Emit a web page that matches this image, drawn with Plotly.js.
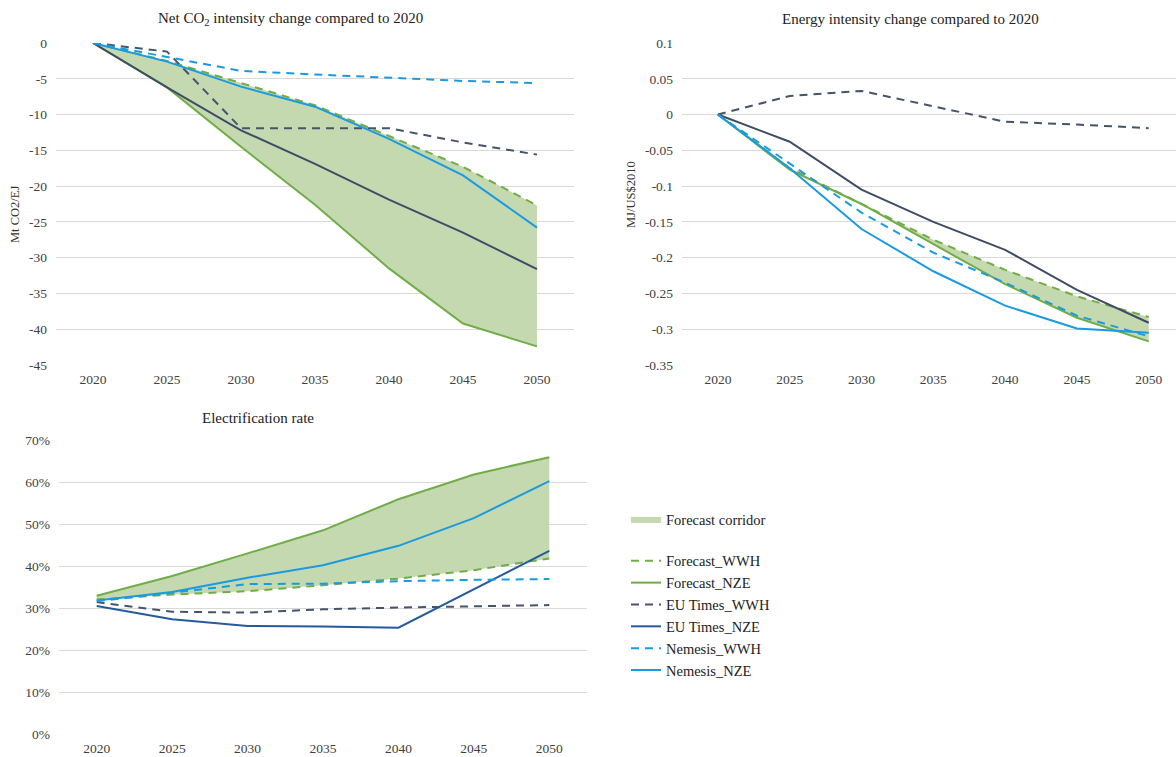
<!DOCTYPE html>
<html>
<head>
<meta charset="utf-8">
<script src="https://cdn.plot.ly/plotly-3.0.1.min.js"></script>
<style>
  html, body { margin: 0; padding: 0; background: #fff; }
  #chart { width: 1176px; height: 757px; }
</style>
</head>
<body>
<div id="chart"></div>
<script>
// ---------- Data ----------
const years = ['2020', '2025', '2030', '2035', '2040', '2045', '2050'];

// Net CO2 intensity change compared to 2020 (Mt CO2/EJ)
const co2ForecastWWH = [0, -2.5, -5.6, -8.7, -13.0, -17.3, -22.7];
const co2ForecastNZE = [0, -6.2, -14.5, -22.6, -31.5, -39.2, -42.4];
const co2EUTimesWWH  = [0, -1.2, -11.9, -11.9, -11.9, -13.9, -15.6];
const co2EUTimesNZE  = [0, -6.2, -12.2, -16.9, -21.9, -26.5, -31.6];
const co2NemesisWWH  = [0, -1.9, -3.9, -4.4, -4.9, -5.3, -5.6];
const co2NemesisNZE  = [0, -2.6, -6.1, -8.9, -13.4, -18.5, -25.8];

// Energy intensity change compared to 2020 (MJ/US$2010)
const enForecastWWH = [0, -0.075, -0.125, -0.175, -0.217, -0.254, -0.283];
const enForecastNZE = [0, -0.077, -0.125, -0.181, -0.237, -0.284, -0.317];
const enEUTimesWWH  = [0, 0.026, 0.033, 0.011, -0.010, -0.014, -0.019];
const enEUTimesNZE  = [0, -0.038, -0.105, -0.150, -0.189, -0.245, -0.291];
const enNemesisWWH  = [0, -0.068, -0.137, -0.193, -0.235, -0.281, -0.310];
const enNemesisNZE  = [0, -0.075, -0.160, -0.219, -0.267, -0.299, -0.305];

// Electrification rate
const elForecastWWH = [0.320, 0.332, 0.340, 0.354, 0.370, 0.390, 0.418];
const elForecastNZE = [0.329, 0.376, 0.430, 0.485, 0.559, 0.618, 0.659];
const elEUTimesWWH  = [0.314, 0.291, 0.289, 0.297, 0.301, 0.304, 0.307];
const elEUTimesNZE  = [0.305, 0.273, 0.257, 0.256, 0.253, 0.344, 0.436];
const elNemesisWWH  = [0.316, 0.336, 0.357, 0.358, 0.364, 0.367, 0.369];
const elNemesisNZE  = [0.318, 0.338, 0.372, 0.402, 0.448, 0.514, 0.602];

// Tick labels
const co2TickVals = [0, -5, -10, -15, -20, -25, -30, -35, -40, -45];
const co2TickText = ['0', '-5', '-10', '-15', '-20', '-25', '-30', '-35', '-40', '-45'];
const enTickVals = [0.1, 0.05, 0, -0.05, -0.1, -0.15, -0.2, -0.25, -0.3, -0.35];
const enTickText = ['0.1', '0.05', '0', '-0.05', '-0.1', '-0.15', '-0.2', '-0.25', '-0.3', '-0.35'];
const elTickVals = [0, 0.1, 0.2, 0.3, 0.4, 0.5, 0.6, 0.7];
const elTickText = ['0%', '10%', '20%', '30%', '40%', '50%', '60%', '70%'];

const seriesNames = ['Forecast_WWH', 'Forecast_NZE', 'EU Times_WWH', 'EU Times_NZE', 'Nemesis_WWH', 'Nemesis_NZE'];
const corridorName = 'Forecast corridor';

// ---------- Styles ----------
const FONT = 'Liberation Serif, Times New Roman, serif';
const GREEN = '#70AD47';
const FILL = '#C5D9B1';
const DARK = '#44546A';
const DARKBLUE_TOP = '#3E4C66';
const DARKBLUE = '#245A9E';
const LIGHTBLUE = '#1A9AE0';
const DASH = '8px,6px';

function panel(xa, ya, data, darkNZE, legend) {
  const [wwhF, nzeF, wwhE, nzeE, wwhN, nzeN] = data;
  const px = years.concat(years.slice().reverse());
  const py = wwhF.concat(nzeF.slice().reverse());
  const common = { x: years, xaxis: xa, yaxis: ya, mode: 'lines', hoverinfo: 'skip' };
  return [
    { x: px, y: py, xaxis: xa, yaxis: ya, type: 'scatter', mode: 'lines', fill: 'toself',
      fillcolor: FILL, line: { width: 0, color: FILL }, name: corridorName,
      legendgroup: 'corridor', showlegend: legend, hoverinfo: 'skip' },
    Object.assign({}, common, { y: wwhF, name: seriesNames[0], line: { color: GREEN, width: 2, dash: DASH }, legendgroup: 'lines', showlegend: legend }),
    Object.assign({}, common, { y: nzeF, name: seriesNames[1], line: { color: GREEN, width: 2 }, legendgroup: 'lines', showlegend: legend }),
    Object.assign({}, common, { y: wwhE, name: seriesNames[2], line: { color: DARK, width: 2, dash: DASH }, legendgroup: 'lines', showlegend: legend }),
    Object.assign({}, common, { y: nzeE, name: seriesNames[3], line: { color: darkNZE, width: 2 }, legendgroup: 'lines', showlegend: legend }),
    Object.assign({}, common, { y: wwhN, name: seriesNames[4], line: { color: LIGHTBLUE, width: 2, dash: DASH }, legendgroup: 'lines', showlegend: legend }),
    Object.assign({}, common, { y: nzeN, name: seriesNames[5], line: { color: LIGHTBLUE, width: 2 }, legendgroup: 'lines', showlegend: legend })
  ];
}

const traces = []
  .concat(panel('x', 'y', [co2ForecastWWH, co2ForecastNZE, co2EUTimesWWH, co2EUTimesNZE, co2NemesisWWH, co2NemesisNZE], DARKBLUE_TOP, false))
  .concat(panel('x2', 'y2', [enForecastWWH, enForecastNZE, enEUTimesWWH, enEUTimesNZE, enNemesisWWH, enNemesisNZE], DARKBLUE_TOP, false))
  .concat(panel('x3', 'y3', [elForecastWWH, elForecastNZE, elEUTimesWWH, elEUTimesNZE, elNemesisWWH, elNemesisNZE], DARKBLUE, true));

const W = 1176, H = 757;
const px2x = v => v / W;
const px2y = v => 1 - v / H;

const tickFont = { family: FONT, size: 13.5, color: '#404040' };
function xAxis(domain, range, anchor) {
  return { type: 'category', domain: domain, range: range, anchor: anchor,
    showgrid: false, zeroline: false, showline: false, ticks: '',
    tickfont: tickFont, fixedrange: true, ticklabelstandoff: 4 };
}
function yAxis(domain, range, vals, text, anchor) {
  return { domain: domain, range: range, anchor: anchor, tickvals: vals, ticktext: text,
    showgrid: true, gridcolor: '#D9D9D9', gridwidth: 1, zeroline: false, showline: false,
    ticks: '', tickfont: tickFont, fixedrange: true, ticklabelstandoff: 8 };
}

const layout = {
  width: W, height: H,
  margin: { l: 0, r: 0, t: 0, b: 0 },
  paper_bgcolor: '#ffffff', plot_bgcolor: 'rgba(0,0,0,0)',
  font: { family: FONT, color: '#222' },
  showlegend: true,
  xaxis:  xAxis([px2x(56), px2x(574)], [-0.5, 6.5], 'y'),
  yaxis:  yAxis([px2y(365), px2y(43)], [-45, 0], co2TickVals, co2TickText, 'x'),
  xaxis2: xAxis([px2x(682), 1], [-0.5, 6.38], 'y2'),
  yaxis2: yAxis([px2y(365), px2y(43)], [-0.35, 0.1], enTickVals, enTickText, 'x2'),
  xaxis3: xAxis([px2x(59), px2x(587)], [-0.5, 6.5], 'y3'),
  yaxis3: yAxis([px2y(734), px2y(440)], [0, 0.7], elTickVals, elTickText, 'x3'),
  legend: {
    x: px2x(626), y: px2y(503), xanchor: 'left', yanchor: 'top',
    traceorder: 'grouped', tracegroupgap: 20, itemwidth: 30,
    font: { family: FONT, size: 14.5, color: '#222' },
    bgcolor: 'rgba(0,0,0,0)', itemclick: false, itemdoubleclick: false
  },
  annotations: [
    { text: 'Net CO<sub>2</sub> intensity change compared to 2020', xref: 'paper', yref: 'paper',
      x: px2x(290), y: px2y(19), xanchor: 'center', yanchor: 'middle', showarrow: false,
      font: { family: FONT, size: 15, color: '#222' } },
    { text: 'Energy intensity change compared to 2020', xref: 'paper', yref: 'paper',
      x: px2x(910), y: px2y(19), xanchor: 'center', yanchor: 'middle', showarrow: false,
      font: { family: FONT, size: 15, color: '#222' } },
    { text: 'Electrification rate', xref: 'paper', yref: 'paper',
      x: px2x(258), y: px2y(418), xanchor: 'center', yanchor: 'middle', showarrow: false,
      font: { family: FONT, size: 15, color: '#222' } },
    { text: 'Mt CO2/EJ', xref: 'paper', yref: 'paper', textangle: -90,
      x: px2x(15), y: px2y(215), xanchor: 'center', yanchor: 'middle', showarrow: false,
      font: { family: FONT, size: 12.5, color: '#333' } },
    { text: 'MJ/US$2010', xref: 'paper', yref: 'paper', textangle: -90,
      x: px2x(631), y: px2y(195), xanchor: 'center', yanchor: 'middle', showarrow: false,
      font: { family: FONT, size: 12.5, color: '#333' } }
  ]
};

Plotly.newPlot('chart', traces, layout, { displayModeBar: false, staticPlot: true });
</script>
</body>
</html>
